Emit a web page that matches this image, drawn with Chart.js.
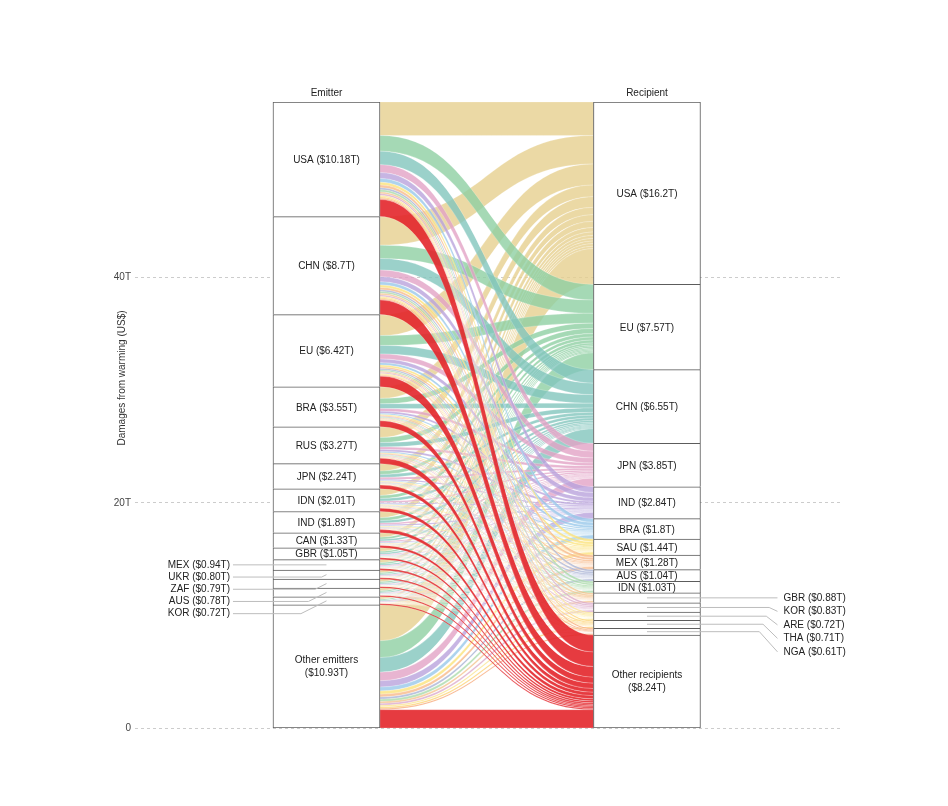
<!DOCTYPE html>
<html>
<head>
<meta charset="utf-8">
<script src="https://cdn.jsdelivr.net/npm/chart.js@4.4.1/dist/chart.umd.min.js"></script>
<style>
  html, body { margin: 0; padding: 0; background: #fff; }
</style>
</head>
<body>
<canvas id="alluvial" width="948" height="806"></canvas>
<script>
// Emitters (left column), top to bottom
const emitters = ["USA", "CHN", "EU", "BRA", "RUS", "JPN", "IDN", "IND", "CAN", "GBR",
  "MEX", "UKR", "ZAF", "AUS", "KOR", "Other emitters"];
const emitterValues = [10.18, 8.7, 6.42, 3.55, 3.27, 2.24, 2.01, 1.89, 1.33, 1.05,
  0.94, 0.80, 0.79, 0.78, 0.72, 10.93];
const emitterText = ["$10.18T", "$8.7T", "$6.42T", "$3.55T", "$3.27T", "$2.24T", "$2.01T", "$1.89T", "$1.33T", "$1.05T",
  "$0.94T", "$0.80T", "$0.79T", "$0.78T", "$0.72T", "$10.93T"];

// Recipients (right column), top to bottom
const recipients = ["USA", "EU", "CHN", "JPN", "IND", "BRA", "SAU", "MEX", "AUS", "IDN",
  "GBR", "KOR", "ARE", "THA", "NGA", "Other recipients"];
const recipientValues = [16.2, 7.57, 6.55, 3.85, 2.84, 1.8, 1.44, 1.28, 1.04, 1.03,
  0.88, 0.83, 0.72, 0.71, 0.61, 8.24];
const recipientText = ["$16.2T", "$7.57T", "$6.55T", "$3.85T", "$2.84T", "$1.8T", "$1.44T", "$1.28T", "$1.04T", "$1.03T",
  "$0.88T", "$0.83T", "$0.72T", "$0.71T", "$0.61T", "$8.24T"];

// Damages (T US$) from each emitter (row) to each recipient (column)
const flows = [
  [2.97, 1.39, 1.20, 0.70, 0.52, 0.33, 0.26, 0.23, 0.19, 0.19, 0.16, 0.15, 0.13, 0.13, 0.11, 1.51],
  [2.53, 1.18, 1.02, 0.60, 0.44, 0.28, 0.23, 0.20, 0.16, 0.16, 0.14, 0.13, 0.11, 0.11, 0.10, 1.29],
  [1.87, 0.87, 0.76, 0.44, 0.33, 0.21, 0.17, 0.15, 0.12, 0.12, 0.10, 0.10, 0.08, 0.08, 0.07, 0.95],
  [1.03, 0.48, 0.42, 0.25, 0.18, 0.11, 0.09, 0.08, 0.07, 0.07, 0.06, 0.05, 0.05, 0.05, 0.04, 0.53],
  [0.95, 0.45, 0.39, 0.23, 0.17, 0.11, 0.08, 0.08, 0.06, 0.06, 0.05, 0.05, 0.04, 0.04, 0.04, 0.48],
  [0.65, 0.30, 0.26, 0.16, 0.11, 0.07, 0.06, 0.05, 0.04, 0.04, 0.04, 0.03, 0.03, 0.03, 0.02, 0.33],
  [0.59, 0.27, 0.24, 0.14, 0.10, 0.07, 0.05, 0.05, 0.04, 0.04, 0.03, 0.03, 0.03, 0.03, 0.02, 0.30],
  [0.55, 0.26, 0.22, 0.13, 0.10, 0.06, 0.05, 0.04, 0.04, 0.04, 0.03, 0.03, 0.02, 0.02, 0.02, 0.28],
  [0.39, 0.18, 0.16, 0.09, 0.07, 0.04, 0.03, 0.03, 0.02, 0.02, 0.02, 0.02, 0.02, 0.02, 0.01, 0.20],
  [0.31, 0.14, 0.12, 0.07, 0.05, 0.03, 0.03, 0.02, 0.02, 0.02, 0.02, 0.02, 0.01, 0.01, 0.01, 0.16],
  [0.27, 0.13, 0.11, 0.07, 0.05, 0.03, 0.02, 0.02, 0.02, 0.02, 0.01, 0.01, 0.01, 0.01, 0.01, 0.14],
  [0.23, 0.11, 0.09, 0.06, 0.04, 0.03, 0.02, 0.02, 0.01, 0.01, 0.01, 0.01, 0.01, 0.01, 0.01, 0.12],
  [0.23, 0.11, 0.09, 0.05, 0.04, 0.03, 0.02, 0.02, 0.01, 0.01, 0.01, 0.01, 0.01, 0.01, 0.01, 0.12],
  [0.23, 0.11, 0.09, 0.05, 0.04, 0.03, 0.02, 0.02, 0.01, 0.01, 0.01, 0.01, 0.01, 0.01, 0.01, 0.12],
  [0.21, 0.10, 0.08, 0.05, 0.04, 0.02, 0.02, 0.02, 0.01, 0.01, 0.01, 0.01, 0.01, 0.01, 0.01, 0.11],
  [3.18, 1.49, 1.29, 0.76, 0.56, 0.35, 0.28, 0.25, 0.20, 0.20, 0.17, 0.16, 0.14, 0.14, 0.12, 1.62],
];

const yTicks = [0, 20, 40];
const yTickLabels = ["0", "20T", "40T"];

// ribbon colour per recipient
const recipientColors = ["#e6d08f", "#8fd0a2", "#82c5bd", "#e2a2c5", "#b9a3dc", "#98c8ea", "#fbe27a", "#f8b98a",
  "#a9b3d4", "#a9d9a9", "#f4c28c", "#d9a6c9", "#fae38b", "#fdd06d", "#f6a36f", "#e3262b"];

const FONT = "'Liberation Sans', Arial, Helvetica, sans-serif";
const COL_X = [27.16, 72.62];
const SMALL = 11; // px; nodes thinner than this get an outside label

const sum = a => a.reduce((s, v) => s + v, 0);
const stackTop = sum(emitterValues);

function stack(values) {
  let y = stackTop;
  return values.map(v => { const r = [y - v, y]; y -= v; return r; });
}
const emitterRanges = stack(emitterValues);
const recipientRanges = stack(recipientValues);

function rgba(hex, a) {
  const n = parseInt(hex.slice(1), 16);
  return `rgba(${n >> 16},${(n >> 8) & 255},${n & 255},${a})`;
}

const flowPlugin = {
  id: "flows",
  beforeDatasetsDraw(chart) {
    const ctx = chart.ctx, y = chart.scales.y;
    const eEl = chart.getDatasetMeta(0).data[0], rEl = chart.getDatasetMeta(1).data[0];
    const x0 = eEl.x + eEl.width / 2, x1 = rEl.x - rEl.width / 2, xm = (x0 + x1) / 2;
    const rowSum = flows.map(sum);
    const colSum = recipients.map((_, j) => sum(flows.map(r => r[j])));
    const eOff = emitterRanges.map(r => r[1]);
    const rOff = recipientRanges.map(r => r[1]);
    const ribbons = [];
    flows.forEach((row, i) => row.forEach((v, j) => {
      const ev = v / rowSum[i] * emitterValues[i];
      const rv = v / colSum[j] * recipientValues[j];
      ribbons.push({ j, a0: eOff[i], b0: eOff[i] - ev, a1: rOff[j], b1: rOff[j] - rv });
      eOff[i] -= ev;
      rOff[j] -= rv;
    }));
    ribbons.sort((p, q) => p.j - q.j);
    ctx.save();
    ribbons.forEach(r => {
      const a0 = y.getPixelForValue(r.a0), b0 = y.getPixelForValue(r.b0);
      const a1 = y.getPixelForValue(r.a1), b1 = y.getPixelForValue(r.b1);
      ctx.beginPath();
      ctx.moveTo(x0, a0);
      ctx.bezierCurveTo(xm, a0, xm, a1, x1, a1);
      ctx.lineTo(x1, b1);
      ctx.bezierCurveTo(xm, b1, xm, b0, x0, b0);
      ctx.closePath();
      const last = r.j === recipients.length - 1;
      ctx.fillStyle = rgba(recipientColors[r.j], last ? 0.9 : 0.8);
      ctx.fill();
      ctx.strokeStyle = "rgba(255,255,255,0.4)";
      ctx.lineWidth = 0.5;
      ctx.stroke();
    });
    ctx.restore();
  },
  afterDatasetsDraw(chart) {
    const ctx = chart.ctx, area = chart.chartArea;
    ctx.save();
    ctx.fillStyle = "#222";
    ctx.font = `10px ${FONT}`;
    ctx.textBaseline = "middle";

    const eMeta = chart.getDatasetMeta(0), rMeta = chart.getDatasetMeta(1);

    // column titles
    ctx.textAlign = "center";
    ctx.fillText("Emitter", eMeta.data[0].x, area.top - 9);
    ctx.fillText("Recipient", rMeta.data[0].x, area.top - 9);

    const drawColumn = (meta, names, texts, side) => {
      const small = [];
      meta.data.forEach((el, i) => {
        const h = Math.abs(el.base - el.y), cy = (el.base + el.y) / 2;
        if (i === names.length - 1) {
          ctx.textAlign = "center";
          ctx.fillText(names[i], el.x, cy - 6);
          ctx.fillText(`(${texts[i]})`, el.x, cy + 7);
        } else if (h >= SMALL) {
          ctx.textAlign = "center";
          ctx.fillText(`${names[i]} (${texts[i]})`, el.x, cy + 1);
        } else {
          small.push({ i, cy, el });
        }
      });
      if (!small.length) return;
      const step = side === "left" ? 12.2 : 13.5;
      const y0 = small[0].cy;
      ctx.strokeStyle = "#bdbdbd";
      ctx.lineWidth = 1;
      small.forEach((s, k) => {
        const ly = y0 + k * step;
        const dy = Math.abs(ly - s.cy);
        ctx.beginPath();
        if (side === "left") {
          const xl = s.el.x - s.el.width / 2 - 40, xe = s.el.x;
          ctx.moveTo(xl, ly);
          ctx.lineTo(xe - 2 * dy, ly);
          ctx.lineTo(xe, s.cy);
          ctx.stroke();
          ctx.textAlign = "right";
          ctx.fillText(`${names[s.i]} (${texts[s.i]})`, xl - 3, ly);
        } else {
          const xs = s.el.x, xr = s.el.x + s.el.width / 2 + 77;
          ctx.moveTo(xs, s.cy);
          ctx.lineTo(xr - (dy > 1 ? 6 + 0.6 * dy : 0), s.cy);
          ctx.lineTo(xr, ly);
          ctx.stroke();
          ctx.textAlign = "left";
          ctx.fillText(`${names[s.i]} (${texts[s.i]})`, xr + 6, ly);
        }
      });
    };
    drawColumn(eMeta, emitters, emitterText, "left");
    drawColumn(rMeta, recipients, recipientText, "right");

    // y axis title
    ctx.save();
    ctx.translate(122, (area.top + area.bottom) / 2 - 37);
    ctx.rotate(-Math.PI / 2);
    ctx.textAlign = "center";
    ctx.fillStyle = "#333";
    ctx.fillText("Damages from warming (US$)", 0, 0);
    ctx.restore();
    ctx.restore();
  }
};

const boxStyle = {
  backgroundColor: "#ffffff",
  borderColor: "#5c5c5c",
  borderSkipped: false,
  barThickness: 107,
  grouped: false,
};

new Chart(document.getElementById("alluvial"), {
  type: "bar",
  data: {
    datasets: [
      {
        label: "Emitter",
        data: emitterRanges.map(r => ({ x: COL_X[0], y: r })),
        borderWidth: c => ({ top: 1, left: 1, right: 1, bottom: c.dataIndex === emitters.length - 1 ? 1 : 0 }),
        ...boxStyle,
      },
      {
        label: "Recipient",
        data: recipientRanges.map(r => ({ x: COL_X[1], y: r })),
        borderWidth: c => ({ top: 1, left: 1, right: 1, bottom: c.dataIndex === recipients.length - 1 ? 1 : 0 }),
        ...boxStyle,
      },
    ],
  },
  options: {
    responsive: false,
    animation: false,
    devicePixelRatio: 1,
    layout: { padding: { top: 102, bottom: 78, left: 0, right: 108 } },
    plugins: { legend: { display: false }, tooltip: { enabled: false } },
    scales: {
      x: { type: "linear", min: 0, max: 100, offset: false, display: false },
      y: {
        min: 0,
        max: stackTop,
        afterFit(scale) { scale.width = 135; },
        afterBuildTicks(scale) { scale.ticks = yTicks.map(v => ({ value: v })); },
        border: { display: false, dash: [3, 3] },
        grid: { color: "#cccccc", lineWidth: 1, drawTicks: false },
        ticks: {
          padding: 4,
          color: "#444",
          font: { size: 10, family: FONT },
          callback: v => yTickLabels[yTicks.indexOf(v)],
        },
      },
    },
  },
  plugins: [flowPlugin],
});
</script>
</body>
</html>
